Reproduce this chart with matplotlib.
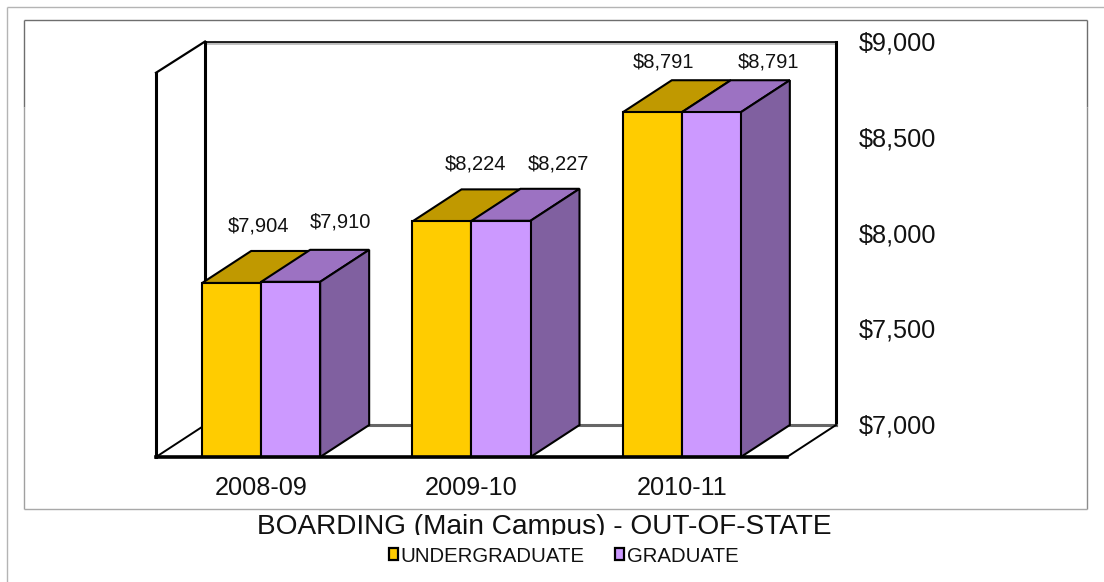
import matplotlib
matplotlib.use("Agg")
import matplotlib.pyplot as plt
from matplotlib.lines import Line2D
from matplotlib.patches import Patch, Polygon
from matplotlib.transforms import Bbox

# ---- data ----
YEARS = ["2008-09", "2009-10", "2010-11"]
UNDERGRADUATE = [7904, 8224, 8791]
GRADUATE = [7910, 8227, 8791]
VALUE_TICKS = [7000, 7500, 8000, 8500, 9000]
TITLE = "BOARDING (Main Campus) - OUT-OF-STATE"

# ---- style ----
W, H = 1104, 582
DPI = 100
FRONT_L, FRONT_R, FRONT_B, PLOT_H, BACK_H = 156, 787, 457, 385, 383
DEPTH_PX_X, DEPTH_PX_Y = 49, 32
BAR_W = 59 / 210.33
YEL, YEL_TOP = "#FFCC00", "#C09900"
PUR, PUR_TOP, PUR_SIDE = "#CC99FF", "#9C72C2", "#8060A0"
# pixel nudges of the value labels from the bar's front top centre
UG_OFFS = [(27, 57), (34, 57), (11, 50)]
GR_OFFS = [(50, 60), (57, 57), (57, 50)]

plt.rcParams["font.family"] = ["Liberation Sans", "DejaVu Sans"]
fig = plt.figure(figsize=(W / DPI, H / DPI), dpi=DPI, facecolor="white")


def fx(px):
    return px / W


def fy(py):
    return 1 - py / H


def fig_line(xs, ys, color, lw=1.0):
    fig.add_artist(Line2D([fx(v) for v in xs], [fy(v) for v in ys], color=color,
                          lw=lw, transform=fig.transFigure, solid_capstyle="butt"))


# outer and inner frames
fig_line([7, 7], [582, 7], "#B4B4B4")
fig_line([7, 1104], [7, 7], "#B4B4B4")
fig_line([23.5, 23.5], [107, 19.5], "#6E6E6E")
fig_line([23.5, 1086.5], [19.5, 19.5], "#6E6E6E")
fig_line([1086.5, 1086.5], [19.5, 107], "#6E6E6E")
fig_line([23.5, 23.5], [107, 508.5], "#A0A0A0")
fig_line([1086.5, 1086.5], [107, 508.5], "#8C8C8C")
fig_line([23.5, 1086.5], [508.5, 508.5], "#A8A8A8")

# front plane axes: category labels, and the bars
ax = fig.add_axes([fx(FRONT_L), fy(FRONT_B), (FRONT_R - FRONT_L) / W, PLOT_H / H], zorder=2)
ax.set_xlim(-0.5, 2.5)
ax.set_ylim(7000, 9000)
ax.patch.set_visible(False)
for s in ax.spines.values():
    s.set_visible(False)
ax.set_yticks([])
ax.set_xticks(range(len(YEARS)), YEARS, fontsize=18.2)
ax.tick_params(axis="x", length=0, pad=14, colors="#111111")

# back plane axes: value labels
back = fig.add_axes([fx(FRONT_L + DEPTH_PX_X), fy(FRONT_B - DEPTH_PX_Y - 1),
                     (FRONT_R - FRONT_L) / W, BACK_H / H], zorder=1)
back.set_xlim(-0.5, 2.5)
back.set_ylim(7000, 9000)
back.patch.set_visible(False)
for s in back.spines.values():
    s.set_visible(False)
back.set_xticks([])
back.yaxis.tick_right()
back.set_yticks(VALUE_TICKS, [f"${v:,}" for v in VALUE_TICKS], fontsize=18.2)
back.tick_params(axis="y", length=0, pad=16.5, colors="#111111")

# depth in data units of the front axes
DX = DEPTH_PX_X / ((FRONT_R - FRONT_L) / 3)
DY = DEPTH_PX_Y / PLOT_H * 2000
X0, X1, Y0, Y1 = -0.5, 2.5, 7000, 9000
TOP = Y1 + DY - 8


def wall(xs, ys, color="black", lw=2.2, z=1):
    ax.add_line(Line2D(xs, ys, color=color, lw=lw, clip_on=False, zorder=z,
                       solid_capstyle="projecting"))


# walls
wall([X0 + DX, X1 + DX], [TOP - 8] * 2, "#BBBBBB", 2.0)
wall([X0 + DX, X1 + DX], [TOP] * 2, "black", 1.2)
wall([X0 + DX, X0 + DX], [Y0 + DY, TOP])
wall([X1 + DX, X1 + DX], [Y0 + DY, TOP])
wall([X0, X0], [Y0, Y1 - 4])
wall([X0, X0 + DX], [Y1 - 4, TOP], lw=1.6)
wall([X0 + DX, X1 + DX], [Y0 + DY] * 2, "#666666", 2.2)
wall([X0, X0 + DX], [Y0, Y0 + DY], lw=1.4)
wall([X1, X1 + DX], [Y0, Y0 + DY], lw=1.4)
wall([X0, X1], [Y0, Y0], lw=2.6, z=8)


def face(pts, color, z):
    ax.add_patch(Polygon(pts, closed=True, facecolor=color, edgecolor="black",
                         lw=1.5, clip_on=False, zorder=z, joinstyle="miter"))


for i, (ug, gr) in enumerate(zip(UNDERGRADUATE, GRADUATE)):
    a, b, c = i - BAR_W, i, i + BAR_W
    z = 3
    face([(a, ug), (b, ug), (b + DX, ug + DY), (a + DX, ug + DY)], YEL_TOP, z)
    face([(b, gr), (c, gr), (c + DX, gr + DY), (b + DX, gr + DY)], PUR_TOP, z)
    face([(c, Y0), (c + DX, Y0 + DY), (c + DX, gr + DY), (c, gr)], PUR_SIDE, z)
    face([(a, Y0), (b, Y0), (b, ug), (a, ug)], YEL, z + 1)
    face([(b, Y0), (c, Y0), (c, gr), (b, gr)], PUR, z + 1)
    for v, cx, off in ((ug, (a + b) / 2, UG_OFFS[i]), (gr, (b + c) / 2, GR_OFFS[i])):
        ax.annotate(f"${v:,}", xy=(cx, v), xytext=off, textcoords="offset pixels",
                    ha="center", va="center", fontsize=14.5, color="#111111",
                    annotation_clip=False, zorder=9)

# title, cut off at its lower edge as in the original
t = fig.text(fx(544.5), fy(534), TITLE, ha="center", va="baseline", fontsize=20.2, color="#111111")
t.set_clip_box(Bbox([[0, H - 535], [W, H]]))
t.set_clip_on(True)

# legend
handles = [Patch(facecolor=YEL, edgecolor="black", lw=1.6, label="UNDERGRADUATE"),
           Patch(facecolor=PUR, edgecolor="black", lw=1.6, label="GRADUATE")]
fig.legend(handles=handles, loc="center", bbox_to_anchor=(fx(563.5), fy(556)), ncol=2,
           frameon=False, fontsize=14.7, handlelength=0.45, handleheight=0.55,
           handletextpad=0.12, columnspacing=1.5, borderpad=0, labelcolor="#111111")

fig.savefig("out.png", dpi=DPI, facecolor="white")
